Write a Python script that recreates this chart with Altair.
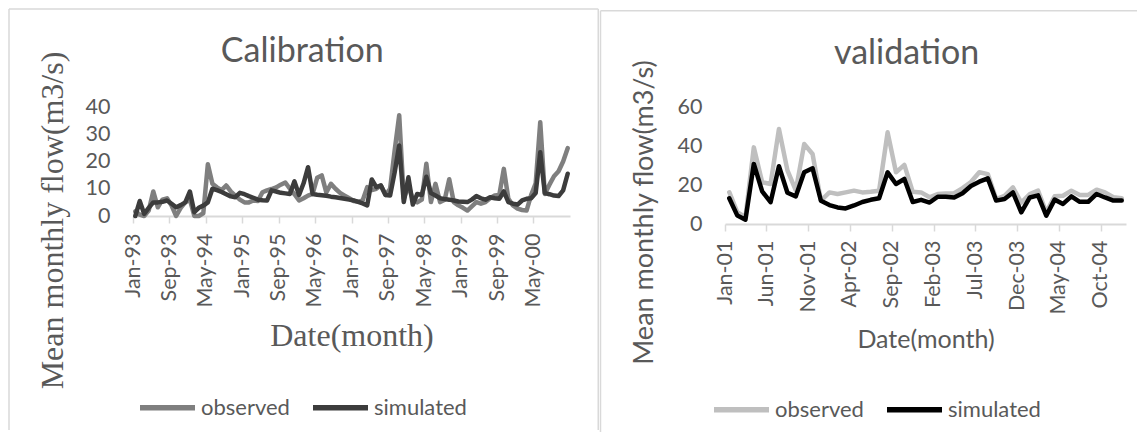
import altair as alt
import pandas as pd

# ---------------- data ----------------
cal_start = "1993-01-01"
cal_end = "2001-01-01"
cal_observed = [1.7, 0.5, 0.0, 2.0, 9.0, 3.2, 6.0, 6.5, 3.8, 0.0,
                3.0, 5.0, 6.0, 0.0, 0.0, 1.0, 19.0, 11.8, 10.5, 9.5,
                11.2, 9.0, 7.5, 6.0, 5.0, 5.0, 5.7, 5.5, 8.7, 9.4,
                9.9, 10.5, 11.5, 12.3, 10.0, 8.0, 5.7, 6.5, 7.5, 8.1,
                14.0, 14.9, 8.7, 11.8, 10.0, 8.5, 7.5, 6.5, 5.5, 5.2,
                5.7, 10.6, 9.5, 10.0, 11.2, 7.7, 10.0, 24.0, 37.0, 6.4,
                11.2, 6.0, 5.0, 6.0, 19.2, 5.1, 11.8, 5.1, 6.0, 13.5,
                5.1, 3.9, 3.0, 2.0, 3.5, 5.1, 4.5, 5.1, 6.5, 7.5,
                7.7, 17.3, 6.3, 3.9, 2.7, 2.2, 2.0, 7.7, 12.0, 34.4,
                8.1, 11.5, 14.6, 16.4, 20.0, 24.9]
cal_simulated = [0.0, 5.5, 0.8, 3.0, 5.0, 5.0, 5.2, 5.7, 4.5, 3.2,
                 4.0, 5.0, 9.0, 1.4, 3.0, 3.8, 5.0, 10.0, 9.5, 8.8,
                 8.0, 7.2, 6.9, 8.5, 8.0, 7.3, 6.7, 6.0, 5.8, 5.7,
                 9.4, 9.0, 8.5, 8.3, 8.1, 12.7, 7.7, 12.0, 17.9, 8.1,
                 7.8, 7.6, 7.4, 7.1, 6.9, 6.6, 6.3, 6.0, 5.7, 5.2,
                 4.6, 3.9, 13.4, 10.6, 11.2, 7.7, 7.5, 16.0, 25.9, 5.1,
                 14.2, 4.2, 8.1, 7.7, 14.4, 8.4, 7.5, 6.5, 6.2, 6.0,
                 5.7, 5.3, 5.2, 5.1, 6.0, 7.3, 6.5, 6.0, 6.9, 6.5,
                 6.3, 9.0, 5.1, 4.5, 4.2, 5.7, 6.3, 6.5, 8.4, 23.4,
                 8.4, 8.0, 7.5, 7.3, 9.4, 15.5]

val_start = "2001-01-01"
val_end = "2005-01-01"
val_observed = [16.3, 6.0, 3.5, 39.3, 21.4, 20.5, 48.7, 27.5, 17.2, 41.0,
                35.9, 12.0, 16.2, 15.4, 16.2, 17.1, 16.2, 16.5, 17.1, 47.0,
                26.5, 30.3, 16.5, 16.2, 13.7, 15.4, 15.6, 15.8, 18.4, 21.5,
                26.5, 25.6, 12.8, 14.5, 18.8, 11.0, 15.4, 17.1, 6.0, 14.2,
                14.5, 17.1, 14.9, 14.9, 17.6, 16.2, 13.7, 13.2]
val_simulated = [13.2, 4.3, 2.2, 30.8, 16.7, 11.2, 29.6, 16.0, 14.2, 26.5,
                 28.6, 11.9, 9.7, 8.5, 8.0, 9.5, 11.3, 12.4, 13.2, 26.5,
                 20.5, 23.1, 11.3, 12.4, 11.0, 14.0, 14.0, 13.6, 15.8, 19.5,
                 21.7, 23.4, 12.0, 12.8, 16.2, 6.0, 13.6, 14.7, 4.3, 12.5,
                 10.3, 14.2, 11.4, 11.4, 15.4, 13.6, 12.0, 12.0]

cal_ticks = ["1993-01-01", "1993-09-01", "1994-05-01", "1995-01-01",
             "1995-09-01", "1996-05-01", "1997-01-01", "1997-09-01",
             "1998-05-01", "1999-01-01", "1999-09-01", "2000-05-01"]
val_ticks = ["2001-01-01", "2001-06-01", "2001-11-01", "2002-04-01",
             "2002-09-01", "2003-02-01", "2003-07-01", "2003-12-01",
             "2004-05-01", "2004-10-01"]
cal_y_ticks = [0, 10, 20, 30, 40]
val_y_ticks = [0, 20, 40, 60]
series_names = ["observed", "simulated"]

GREY_TEXT = "#595959"
FRAME = "#d9d9d9"
SANS = "Lato"
SERIF = "Liberation Serif"
TICK_FONT = 21.5


def month_mids(start, n):
    edges = pd.date_range(start, periods=n + 1, freq="MS", tz="UTC")
    mids = edges[:-1] + (edges[1:] - edges[:-1]) / 2
    return [d.strftime("%Y-%m-%dT%H:%M:%SZ") for d in mids]


def ms(s):
    return int(pd.Timestamp(s, tz="UTC").timestamp() * 1000)


def long_table(start, obs, sim):
    dates = month_mids(start, len(obs))
    rows = []
    for name, vals in zip(series_names, [obs, sim]):
        for d, v in zip(dates, vals):
            rows.append({"date": d, "flow": v, "series": name})
    return pd.DataFrame(rows)


one = pd.DataFrame({"k": [0]})


def vrule(x, y1, y2):
    return alt.Chart(one).mark_rule(color=FRAME, strokeWidth=1.5).encode(
        x=alt.value(x), y=alt.value(y1), y2=alt.value(y2))


def hrule(x1, x2, y):
    return alt.Chart(one).mark_rule(color=FRAME, strokeWidth=1.5).encode(
        x=alt.value(x1), x2=alt.value(x2), y=alt.value(y))


def title_mark(text, x, y, size):
    return alt.Chart(pd.DataFrame({"t": [text]})).mark_text(
        font=SANS, fontSize=size, color=GREY_TEXT, align="center",
        baseline="middle").encode(x=alt.value(x), y=alt.value(y), text="t:N")


def panel(df, dom, ticks, yticks, colors, xaxis_kw, yaxis_kw, legend_xy):
    x = alt.X("date:T",
              scale=alt.Scale(type="utc", domain=[ms(dom[0]), ms(dom[1])]),
              axis=alt.Axis(values=[ms(t) for t in ticks],
                            labelExpr="utcFormat(datum.value, '%b-%y')",
                            labelAngle=270, labelFont=SANS,
                            labelFontSize=TICK_FONT, labelColor=GREY_TEXT,
                            labelOverlap=False, labelFlush=False,
                            tickSize=7, tickColor=FRAME, tickWidth=1.5,
                            domainColor=FRAME, domainWidth=2, grid=False,
                            title="Date(month)", titleColor=GREY_TEXT,
                            titleFontWeight="normal", titleBaseline="middle",
                            titleAlign="center", **xaxis_kw))
    y = alt.Y("flow:Q",
              scale=alt.Scale(domain=[yticks[0], yticks[-1]], nice=False),
              axis=alt.Axis(values=yticks, grid=False, domain=False, ticks=False,
                            labelFont=SANS, labelFontSize=TICK_FONT,
                            labelColor=GREY_TEXT,
                            title="Mean monthly flow(m3/s)", titleColor=GREY_TEXT,
                            titleFontWeight="normal", titleAngle=270,
                            titleBaseline="middle", titleAlign="center",
                            **yaxis_kw))
    color = alt.Color("series:N",
                      scale=alt.Scale(domain=series_names, range=colors),
                      legend=alt.Legend(orient="none", legendX=legend_xy[0],
                                        legendY=legend_xy[1],
                                        direction="horizontal", title=None,
                                        symbolType="stroke", symbolSize=3025,
                                        symbolStrokeWidth=5.5, labelFont=SANS,
                                        labelFontSize=22, labelColor=GREY_TEXT,
                                        labelOffset=3, columnPadding=12))
    base = alt.Chart(df).mark_line(strokeWidth=4.5, strokeJoin="round",
                                   strokeCap="round").encode(x=x, y=y, color=color)
    obs = base.transform_filter(alt.datum.series == "observed")
    sim = base.transform_filter(alt.datum.series == "simulated")
    return obs, sim


# ---------------- left panel (Calibration) ----------------
W1, H1 = 437, 109
cal_df = long_table(cal_start, cal_observed, cal_simulated)
obs1, sim1 = panel(
    cal_df, (cal_start, cal_end), cal_ticks, cal_y_ticks, ["#7f7f7f", "#3c3c3c"],
    dict(labelPadding=10, titleFont=SERIF, titleFontSize=32, titleX=218.5, titleY=119.5),
    dict(labelPadding=23, titleFont=SERIF, titleFontSize=32, titleX=-80.75, titleY=113),
    (4, 270))
left = alt.layer(
    vrule(-124, -98, 323),
    hrule(-124, 465.25, -98),
    vrule(465.25, -98, 323),
    title_mark("Calibration", 169.25, -54.75, 34),
    obs1, sim1,
).properties(width=W1, height=H1)

# ---------------- right panel (validation) ----------------
W2, H2 = 401, 117
val_df = long_table(val_start, val_observed, val_simulated)
obs2, sim2 = panel(
    val_df, (val_start, val_end), val_ticks, val_y_ticks, ["#bfbfbf", "#000000"],
    dict(labelPadding=9, titleFont=SANS, titleFontSize=25, titleX=200.5, titleY=115),
    dict(labelPadding=23, titleFont=SANS, titleFontSize=27, titleX=-81, titleY=105),
    (-14, 272))
right = alt.layer(
    vrule(-124.5, -96.15, 325),
    hrule(-124.5, 412, -96.15),
    title_mark("validation", 181.6, -53.2, 34),
    obs2, sim2,
).properties(width=W2, height=H2)

chart = alt.hconcat(left, right, spacing=0).resolve_scale(
    x="independent", y="independent", color="independent"
).resolve_legend(color="independent").properties(
    padding={"left": 0, "top": 0, "right": 0, "bottom": 0},
    background="white",
).configure_view(strokeWidth=0)

chart.save("out.html", embed_options={"renderer": "svg", "actions": False})
